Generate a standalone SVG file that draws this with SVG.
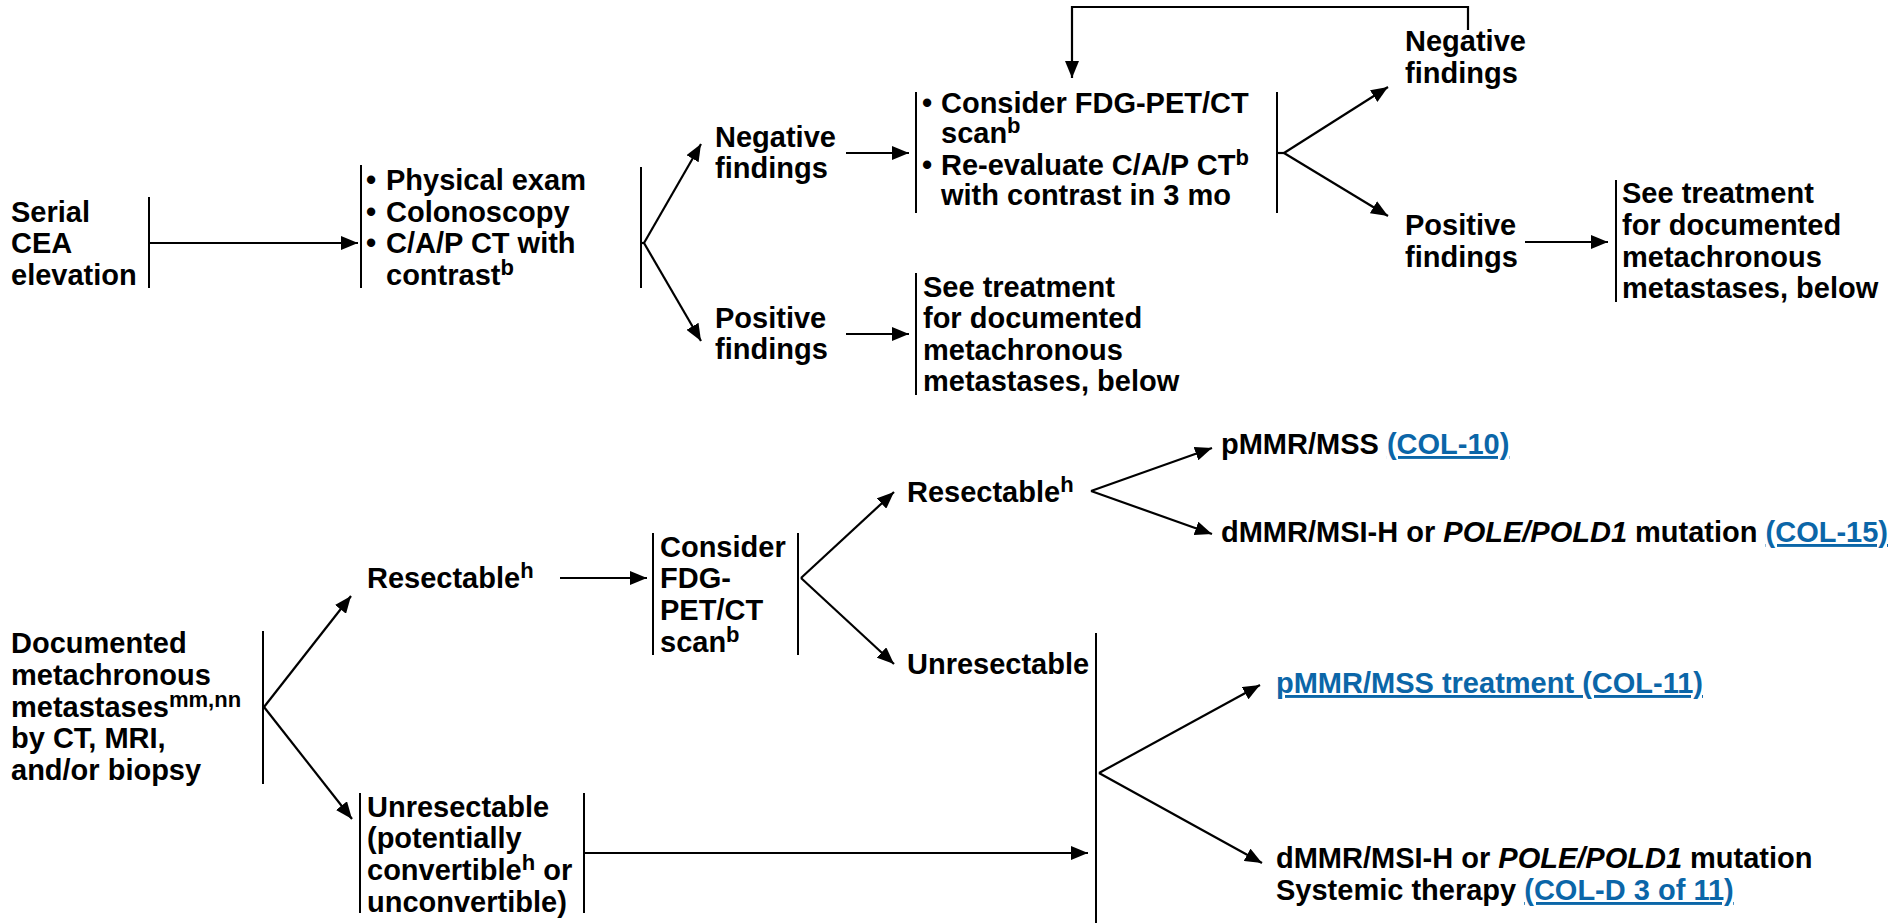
<svg xmlns="http://www.w3.org/2000/svg" width="1898" height="923" viewBox="0 0 1898 923">
<style>
text{font-family:"Liberation Sans",Arial,sans-serif;font-weight:bold;font-size:29px;fill:#000}
.sup{font-size:22px}
.lk{fill:#0b66a8;text-decoration:underline}
.it{font-style:italic}
.bar{stroke:#000;stroke-width:2;fill:none}
.ln{stroke:#000;stroke-width:2.2;fill:none}
.ar{stroke:#000;stroke-width:2.2;fill:none;marker-end:url(#ah)}
</style>
<defs>
<marker id="ah" markerUnits="userSpaceOnUse" markerWidth="18" markerHeight="14" refX="17" refY="7" orient="auto">
<path d="M0,0 L17,7 L0,14 z" fill="#000"/>
</marker>
</defs>

<g id="connectors">
<line class="ar" x1="149" y1="243" x2="358" y2="243"/>
<line class="ln" x1="641" y1="243" x2="644" y2="243"/>
<line class="ar" x1="644" y1="243" x2="701" y2="144"/>
<line class="ar" x1="644" y1="243" x2="701" y2="341"/>
<line class="ar" x1="846" y1="153" x2="909" y2="153"/>
<line class="ar" x1="846" y1="334" x2="909" y2="334"/>
<line class="ln" x1="1277" y1="153" x2="1284" y2="153"/>
<line class="ar" x1="1284" y1="153" x2="1388" y2="87"/>
<line class="ar" x1="1284" y1="153" x2="1388" y2="216"/>
<polyline class="ar" points="1468,30 1468,7 1072,7 1072,78"/>
<line class="ar" x1="1525" y1="242" x2="1608" y2="242"/>
<line class="ar" x1="264" y1="707" x2="351" y2="596"/>
<line class="ar" x1="264" y1="707" x2="352" y2="819"/>
<line class="ar" x1="560" y1="578" x2="647" y2="578"/>
<line class="ar" x1="801" y1="578" x2="894" y2="492"/>
<line class="ar" x1="801" y1="578" x2="894" y2="664"/>
<line class="ar" x1="1091" y1="491" x2="1212" y2="448"/>
<line class="ar" x1="1091" y1="491" x2="1212" y2="534"/>
<line class="ar" x1="1099" y1="773" x2="1260" y2="685"/>
<line class="ar" x1="1099" y1="773" x2="1262" y2="863"/>
<line class="ar" x1="584" y1="853" x2="1088" y2="853"/>
</g>

<g id="serial-cea">
<text x="11" y="222">Serial</text>
<text x="11" y="253">CEA</text>
<text x="11" y="285">elevation</text>
<line class="bar" x1="149" y1="197" x2="149" y2="288"/>
</g>

<g id="workup">
<line class="bar" x1="361" y1="165" x2="361" y2="288"/>
<text x="366" y="190">•</text><text x="386" y="190">Physical exam</text>
<text x="366" y="222">•</text><text x="386" y="222">Colonoscopy</text>
<text x="366" y="253">•</text><text x="386" y="253">C/A/P CT with</text>
<text x="386" y="285">contrast<tspan class="sup" dy="-10">b</tspan></text>
<line class="bar" x1="641" y1="167" x2="641" y2="288"/>
</g>

<g id="neg1">
<text x="715" y="147">Negative</text>
<text x="715" y="178">findings</text>
</g>

<g id="pos1">
<text x="715" y="328">Positive</text>
<text x="715" y="359">findings</text>
</g>

<g id="consider1">
<line class="bar" x1="916" y1="92" x2="916" y2="213"/>
<text x="922" y="113">•</text><text x="941" y="113">Consider FDG-PET/CT</text>
<text x="941" y="143">scan<tspan class="sup" dy="-10">b</tspan></text>
<text x="922" y="175">•</text><text x="941" y="175">Re-evaluate C/A/P CT<tspan class="sup" dy="-10">b</tspan></text>
<text x="941" y="205">with contrast in 3 mo</text>
<line class="bar" x1="1277" y1="92" x2="1277" y2="213"/>
</g>

<g id="see1">
<line class="bar" x1="916" y1="273" x2="916" y2="395"/>
<text x="923" y="297">See treatment</text>
<text x="923" y="328">for documented</text>
<text x="923" y="360">metachronous</text>
<text x="923" y="391">metastases, below</text>
</g>

<g id="neg2">
<text x="1405" y="51">Negative</text>
<text x="1405" y="83">findings</text>
</g>

<g id="pos2">
<text x="1405" y="235">Positive</text>
<text x="1405" y="267">findings</text>
</g>

<g id="see2">
<line class="bar" x1="1616" y1="180" x2="1616" y2="302"/>
<text x="1622" y="203">See treatment</text>
<text x="1622" y="235">for documented</text>
<text x="1622" y="267">metachronous</text>
<text x="1622" y="298">metastases, below</text>
</g>

<g id="documented">
<text x="11" y="653">Documented</text>
<text x="11" y="685">metachronous</text>
<text x="11" y="717">metastases<tspan class="sup" dy="-10">mm,nn</tspan></text>
<text x="11" y="748">by CT, MRI,</text>
<text x="11" y="780">and/or biopsy</text>
<line class="bar" x1="263" y1="631" x2="263" y2="784"/>
</g>

<g id="resectable1">
<text x="367" y="588">Resectable<tspan class="sup" dy="-10">h</tspan></text>
</g>

<g id="consider2">
<line class="bar" x1="653" y1="533" x2="653" y2="655"/>
<text x="660" y="557">Consider</text>
<text x="660" y="588">FDG-</text>
<text x="660" y="620">PET/CT</text>
<text x="660" y="652">scan<tspan class="sup" dy="-10">b</tspan></text>
<line class="bar" x1="798" y1="533" x2="798" y2="655"/>
</g>

<g id="resectable2">
<text x="907" y="502">Resectable<tspan class="sup" dy="-10">h</tspan></text>
</g>

<g id="pmmr1">
<text x="1221" y="454">pMMR/MSS <tspan class="lk">(COL-10)</tspan></text>
</g>

<g id="dmmr1">
<text x="1221" y="542">dMMR/MSI-H or <tspan class="it">POLE/POLD1</tspan> mutation <tspan class="lk">(COL-15)</tspan></text>
</g>

<g id="unresectable2">
<text x="907" y="674">Unresectable</text>
<line class="bar" x1="1096" y1="633" x2="1096" y2="923"/>
</g>

<g id="pmmr2">
<text class="lk" x="1276" y="693">pMMR/MSS treatment (COL-11)</text>
</g>

<g id="dmmr2">
<text x="1276" y="868">dMMR/MSI-H or <tspan class="it">POLE/POLD1</tspan> mutation</text>
<text x="1276" y="900">Systemic therapy <tspan class="lk">(COL-D 3 of 11)</tspan></text>
</g>

<g id="unresectable1">
<line class="bar" x1="360" y1="793" x2="360" y2="913"/>
<text x="367" y="817">Unresectable</text>
<text x="367" y="848">(potentially</text>
<text x="367" y="880">convertible<tspan class="sup" dy="-10">h</tspan><tspan dy="10"> or</tspan></text>
<text x="367" y="912">unconvertible)</text>
<line class="bar" x1="584" y1="793" x2="584" y2="913"/>
</g>
</svg>
